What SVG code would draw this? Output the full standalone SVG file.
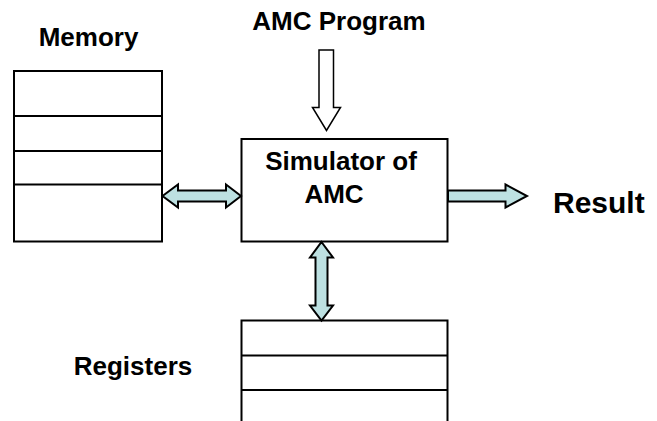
<svg xmlns="http://www.w3.org/2000/svg" width="657" height="421" viewBox="0 0 657 421">
  <style>
    .box { fill: #ffffff; stroke: #000000; stroke-width: 2; }
    .line { stroke: #000000; stroke-width: 2; fill: none; }
    .lbl { font-family: "Liberation Sans", Arial, sans-serif; font-weight: bold; font-size: 26px; fill: #000000; }
    .big { font-size: 30px; }
    .arrow { fill: #bde1e2; stroke: #000000; stroke-width: 2; stroke-linejoin: miter; }
    .hollow { fill: #ffffff; stroke: #000000; stroke-width: 1.5; }
  </style>
  <rect width="657" height="421" fill="#ffffff"/>
  <g id="memory">
    <rect class="box" x="14" y="71" width="148" height="170.5"/>
    <line class="line" x1="14" y1="116" x2="162" y2="116"/>
    <line class="line" x1="14" y1="151" x2="162" y2="151"/>
    <line class="line" x1="14" y1="184.5" x2="162" y2="184.5"/>
    <text class="lbl" x="88.5" y="46" text-anchor="middle">Memory</text>
  </g>
  <g id="simulator">
    <rect class="box" x="241.5" y="139" width="206" height="102.5"/>
    <text class="lbl" x="341" y="170" text-anchor="middle">Simulator of</text>
    <text class="lbl" x="334" y="203" text-anchor="middle">AMC</text>
  </g>
  <g id="program">
    <text class="lbl" x="339" y="30" text-anchor="middle">AMC Program</text>
  </g>
  <g id="result">
    <text class="lbl big" x="553" y="212.5">Result</text>
  </g>
  <g id="registers">
    <path class="line" d="M241.5 423 V320.5 H447.5 V423"/>
    <line class="line" x1="241.5" y1="355.5" x2="447.5" y2="355.5"/>
    <line class="line" x1="241.5" y1="390" x2="447.5" y2="390"/>
    <text class="lbl" x="133" y="375" text-anchor="middle">Registers</text>
  </g>
  <g id="connectors">
    <polygon class="hollow" points="319,50 333.5,50 333.5,107.5 340.5,107.5 326.5,130.5 312.5,107.5 319,107.5"/>
    <polygon class="arrow" points="162.5,196 178,184.5 178,190.5 226,190.5 226,184.5 241,196 226,207.5 226,201.5 178,201.5 178,207.5"/>
    <polygon class="arrow" points="448,190.5 505.5,190.5 505.5,184.5 527,196 505.5,207.5 505.5,201.5 448,201.5"/>
    <polygon class="arrow" points="321.5,242 333,257.5 327.5,257.5 327.5,305.5 333,305.5 321.5,320.5 310,305.5 315.5,305.5 315.5,257.5 310,257.5"/>
  </g>
</svg>
